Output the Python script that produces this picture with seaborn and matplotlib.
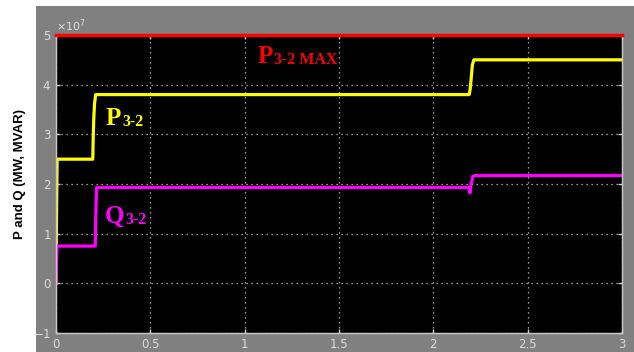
import numpy as np
import pandas as pd
import matplotlib
matplotlib.use('Agg')
import matplotlib.pyplot as plt
from matplotlib.patches import Rectangle
from matplotlib.ticker import ScalarFormatter
import seaborn as sns

# ====================== DATA ======================
p_time = [0.0, 0.002, 0.004, 0.006, 0.195, 0.197, 0.200, 0.204, 0.210, 2.190, 2.195, 2.200, 2.207, 2.215, 3.0]
p_val = [0.0, 1.0e7, 1.8e7, 2.5e7, 2.5e7, 2.9e7, 3.3e7, 3.6e7, 3.8e7, 3.8e7, 3.9e7, 4.1e7, 4.4e7, 4.5e7, 4.5e7]

q_time = [0.0, 0.002, 0.004, 0.006, 0.208, 0.211, 0.215, 2.188, 2.194, 2.200, 2.210, 2.220, 3.0]
q_val = [0.0, 0.3e7, 0.6e7, 0.75e7, 0.75e7, 1.4e7, 1.93e7, 1.93e7, 1.82e7, 2.0e7, 2.15e7, 2.17e7, 2.17e7]

pmax_time = [0.0, 3.0]
pmax_val = [5.0e7, 5.0e7]

x_ticks = [0, 0.5, 1, 1.5, 2, 2.5, 3]
y_ticks = [-1e7, 0, 1e7, 2e7, 3e7, 4e7, 5e7]

df_p = pd.DataFrame({'t': p_time, 'v': p_val})
df_q = pd.DataFrame({'t': q_time, 'v': q_val})
df_max = pd.DataFrame({'t': pmax_time, 'v': pmax_val})

# ====================== FIGURE ======================
W, H = 634, 352
fig = plt.figure(figsize=(W / 100, H / 100), dpi=100, facecolor='white')

# grey scope panel
fig.patches.append(Rectangle((36 / W, 0), (W - 36) / W, (H - 6) / H,
                             transform=fig.transFigure, facecolor='#808080',
                             edgecolor='none', zorder=-10))

ax = fig.add_axes([56 / W, (H - 333) / H, (622 - 56) / W, (333 - 35) / H])
ax.set_zorder(1)
ax.set_facecolor('black')

sns.lineplot(data=df_p, x='t', y='v', color='#ffff00', lw=2.3, estimator=None, sort=False, ax=ax)
sns.lineplot(data=df_q, x='t', y='v', color='#ff00ff', lw=2.3, estimator=None, sort=False, ax=ax)
sns.lineplot(data=df_max, x='t', y='v', color='#ff0000', lw=2.5, estimator=None, sort=False,
             ax=ax, clip_on=False, zorder=5)

ax.set_xlim(0, 3)
ax.set_ylim(-1e7, 5e7)
ax.set_xticks(x_ticks)
ax.set_xticklabels(['0', '0.5', '1', '1.5', '2', '2.5', '3'])
ax.set_yticks(y_ticks)
fmt = ScalarFormatter(useMathText=True)
fmt.set_powerlimits((0, 0))
ax.yaxis.set_major_formatter(fmt)
ax.yaxis.get_offset_text().set_color('#d8d8d8')
ax.yaxis.get_offset_text().set_fontsize(8)

ax.set_xlabel('')
ax.set_ylabel('')
ax.grid(True, color='#c8c8c8', ls=(0, (1, 3)), lw=0.9)
ax.tick_params(direction='in', top=True, right=True, colors='#d0d0d0',
               labelcolor='#dcdcdc', labelsize=8.5, length=3, width=1)
for s in ax.spines.values():
    s.set_color('#c8c8c8')
    s.set_linewidth(1)

# ====================== LABELS ======================
serif = 'Liberation Serif'

def sub_label(x, y, main, sub, color, size=18, subsize=11.5):
    t = ax.text(x, y, main, color=color, fontsize=size, family=serif,
                fontweight='bold', va='baseline', ha='left')
    ax.annotate(sub, xy=(1, 0), xycoords=t, xytext=(0.5, 0.5), textcoords='offset points',
                color=color, fontsize=subsize, family=serif, fontweight='bold',
                va='bottom', ha='left')

sub_label(0.265, 3.18e7, 'P', '3-2', '#ffff00')
sub_label(0.26, 1.21e7, 'Q', '3-2', '#ff00ff')
sub_label(1.07, 4.43e7, 'P', '3-2 MAX', '#ff0000')

fig.text(20 / W, 1 - 174 / H, 'P and Q (MW, MVAR)', rotation=90, fontsize=9.5,
         fontweight='bold', family='Liberation Sans', color='black',
         ha='center', va='center')

plt.savefig('out.png', dpi=100, facecolor='white')
